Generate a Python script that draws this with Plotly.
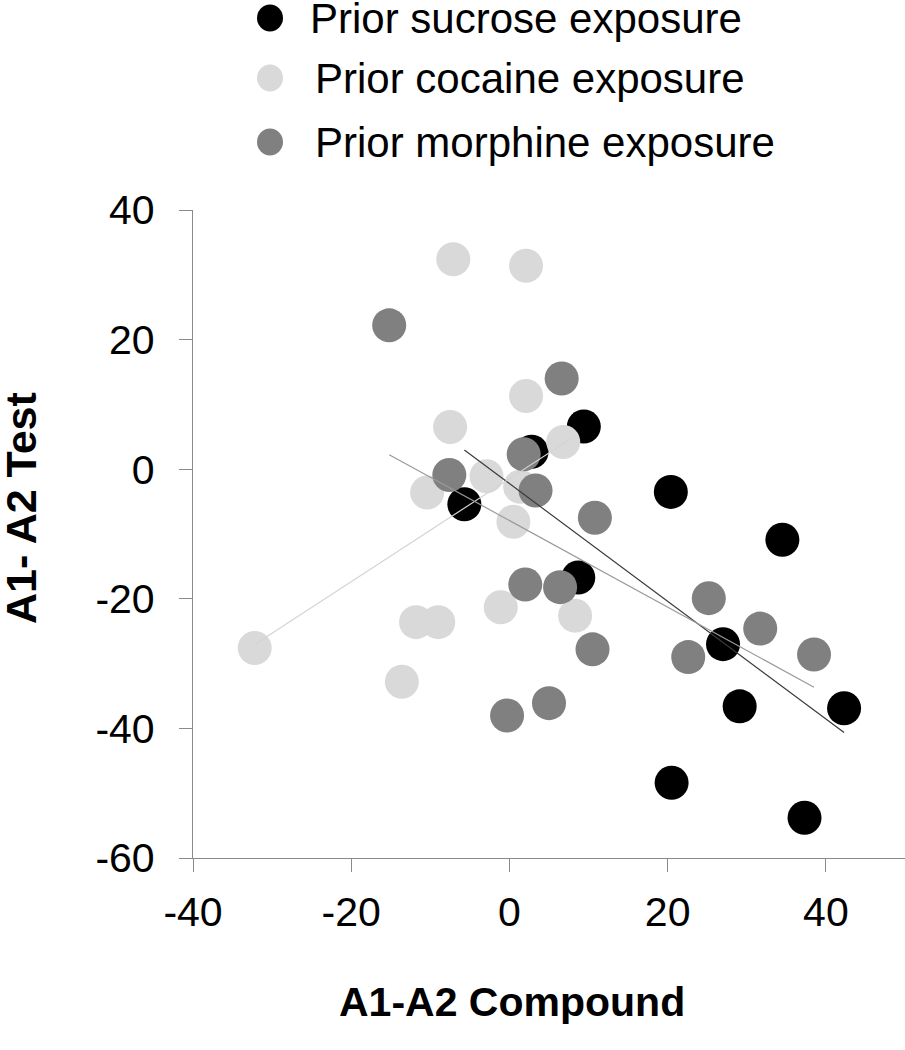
import numpy as np
import plotly.graph_objects as go

# ---- data ----
sucrose_x = [9.4, 2.8, -5.7, 20.4, 34.5, 8.7, 27.0, 29.1, 42.3, 20.5, 37.3]
sucrose_y = [6.6, 2.7, -5.4, -3.5, -10.9, -16.7, -27.0, -36.6, -36.9, -48.4, -53.8]

cocaine_x = [-7.1, 2.1, 2.1, 6.8, -7.5, -2.9, -10.4, 1.35, 0.5, -1.1, 8.3, -11.8, -9.0, -13.6, -32.2]
cocaine_y = [32.4, 31.4, 11.3, 4.2, 6.5, -1.1, -3.6, -2.7, -8.1, -21.3, -22.6, -23.6, -23.6, -32.8, -27.6]

morphine_x = [-15.2, 6.6, 1.8, -7.6, 3.3, 10.8, 6.4, 2.0, 25.2, 31.7, 22.6, 38.5, 10.5, 5.0, -0.3]
morphine_y = [22.2, 14.0, 2.3, -0.9, -3.3, -7.5, -18.2, -17.8, -19.9, -24.6, -29.0, -28.6, -27.8, -36.1, -38.0]

series_names = ["Prior sucrose exposure", "Prior cocaine exposure", "Prior morphine exposure"]
marker_colors = ["#000000", "#d9d9d9", "#808080"]
line_colors = ["#3a3a3a", "#d4d4d4", "#9a9a9a"]

x_ticks = [-40, -20, 0, 20, 40]
y_ticks = [40, 20, 0, -20, -40, -60]

x_title = "A1-A2 Compound"
y_title = "A1- A2 Test"

FONT = "Liberation Sans, Arial, sans-serif"
W, H = 905, 1050
ML, MR, MT, MB = 193, 0, 210, 192
PW, PH = W - ML - MR, H - MT - MB

groups = [(sucrose_x, sucrose_y), (cocaine_x, cocaine_y), (morphine_x, morphine_y)]

fig = go.Figure()
for (gx, gy), name, col in zip(groups, series_names, marker_colors):
    fig.add_trace(go.Scatter(
        x=gx, y=gy, mode="markers", name=name, showlegend=False,
        marker=dict(size=34, color=col, line=dict(width=0)),
    ))

# linear trend lines (least squares per group)
for (gx, gy), name, lc in zip(groups, series_names, line_colors):
    coef = np.polyfit(gx, gy, 1)
    xs = np.array([min(gx), max(gx)])
    fig.add_trace(go.Scatter(
        x=xs, y=np.polyval(coef, xs), mode="lines", showlegend=False,
        name=name + " trend", line=dict(color=lc, width=1.2),
    ))

def px2paper_x(p):
    return (p - ML) / PW

def px2paper_y(p):
    return (H - MB - p) / PH

# manual legend (large symbols)
legend_y = [18, 78, 142]
legend_text_x = [308, 313, 313]
shapes = []
annotations = []
for name, col, ly, tx in zip(series_names, marker_colors, legend_y, legend_text_x):
    shapes.append(dict(
        type="circle", xref="paper", yref="paper",
        xsizemode="pixel", ysizemode="pixel",
        xanchor=px2paper_x(270), yanchor=px2paper_y(ly),
        x0=-13, x1=13, y0=-13.5, y1=13.5,
        fillcolor=col, line=dict(width=0),
    ))
    annotations.append(dict(
        xref="paper", yref="paper", x=px2paper_x(tx), y=px2paper_y(ly),
        xanchor="left", yanchor="middle", showarrow=False,
        text=name, font=dict(family=FONT, size=42, color="black"),
    ))

# axis titles
annotations.append(dict(
    xref="paper", yref="paper", x=px2paper_x(512), y=px2paper_y(1002),
    xanchor="center", yanchor="middle", showarrow=False,
    text="<b>" + x_title + "</b>", font=dict(family=FONT, size=41, color="black"),
))
annotations.append(dict(
    xref="paper", yref="paper", x=px2paper_x(21), y=px2paper_y(508),
    xanchor="center", yanchor="middle", showarrow=False, textangle=-90,
    text="<b>" + y_title + "</b>", font=dict(family=FONT, size=43, color="black"),
))

fig.update_layout(
    width=W, height=H,
    margin=dict(l=ML, r=MR, t=MT, b=MB, pad=0),
    paper_bgcolor="white", plot_bgcolor="white",
    font=dict(family=FONT, color="black"),
    shapes=shapes, annotations=annotations,
    showlegend=False,
)
fig.update_xaxes(
    range=[-40, 50], tickvals=x_ticks, ticktext=[str(v) for v in x_ticks],
    showgrid=False, zeroline=False, showline=True, linecolor="#8a8a8a", linewidth=1.3,
    ticks="outside", ticklen=13, tickcolor="#8a8a8a", tickwidth=1.3,
    tickfont=dict(family=FONT, size=41, color="black"), ticklabelstandoff=5,
    automargin=False,
)
fig.update_yaxes(
    range=[-60, 40], tickvals=y_ticks, ticktext=[str(v) for v in y_ticks],
    showgrid=False, zeroline=False, showline=True, linecolor="#8a8a8a", linewidth=1.3,
    ticks="outside", ticklen=13, tickcolor="#8a8a8a", tickwidth=1.3,
    tickfont=dict(family=FONT, size=41, color="black"), ticklabelstandoff=16,
    automargin=False,
)

fig.write_html(
    "out.html",
    config={"displayModeBar": False},
    post_script="document.body.style.margin='0px';document.body.style.padding='0px';",
)
